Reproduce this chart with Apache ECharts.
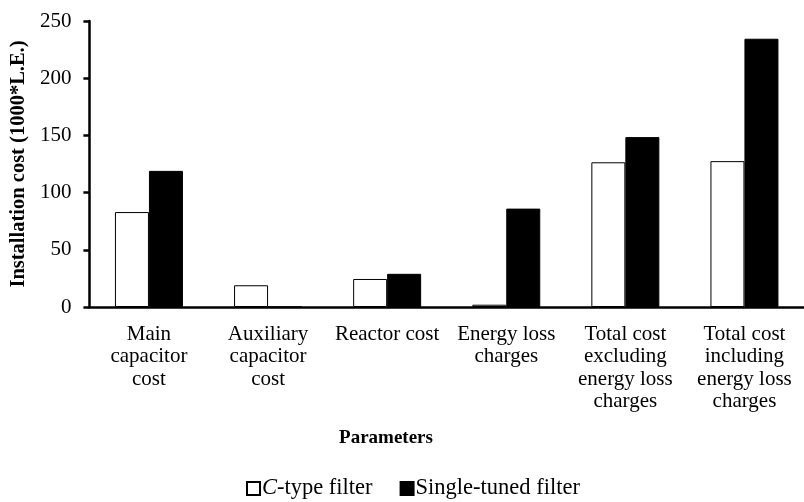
<!DOCTYPE html>
<html>
<head>
<meta charset="utf-8">
<script src="https://cdn.jsdelivr.net/npm/echarts@6/dist/echarts.min.js"></script>
<style>
  html, body { margin: 0; padding: 0; background: #fff; }
  #chart { width: 804px; height: 502px; }
</style>
</head>
<body>
<div id="chart"></div>
<script>
// Installation cost per parameter, in thousands of L.E.
const categories = [
  'Main\ncapacitor\ncost',
  'Auxiliary\ncapacitor\ncost',
  'Reactor cost',
  'Energy loss\ncharges',
  'Total cost\nexcluding\nenergy loss\ncharges',
  'Total cost\nincluding\nenergy loss\ncharges'
];
const cTypeFilter = [83, 19, 24.5, 2, 126.5, 127.5];
const singleTunedFilter = [119, 0, 29, 86, 148.5, 234.5];
const yTicks = { min: 0, max: 250, interval: 50 };

const serif = '"Liberation Serif", "Times New Roman", serif';
const chart = echarts.init(document.getElementById('chart'));

chart.setOption({
  animation: false,
  backgroundColor: '#fff',
  textStyle: { fontFamily: serif, color: '#000' },
  title: {
    text: 'Parameters',
    left: 386,
    top: 429,
    padding: 0,
    textAlign: 'center',
    textStyle: { fontFamily: serif, fontSize: 19, fontWeight: 'bold', color: '#000' }
  },
  legend: {
    left: 246,
    top: 477,
    padding: 0,
    itemWidth: 13,
    itemHeight: 13,
    itemGap: 27,
    icon: 'rect',
    data: ['C-type filter', 'Single-tuned filter'],
    formatter: function (name) {
      return name === 'C-type filter' ? '{i|C}{n|-type filter}' : '{n|' + name + '}';
    },
    textStyle: {
      fontFamily: serif,
      fontSize: 22.5,
      color: '#000',
      padding: [0, 0, 0, -3],
      rich: {
        i: { fontFamily: serif, fontSize: 22.5, fontStyle: 'italic', color: '#000' },
        n: { fontFamily: serif, fontSize: 22.5, color: '#000' }
      }
    }
  },
  grid: { left: 88, right: -1, top: 21, bottom: 195, containLabel: false },
  xAxis: {
    type: 'category',
    data: categories,
    axisLine: { lineStyle: { color: '#000', width: 2.5 } },
    axisTick: { show: false },
    axisLabel: {
      interval: 0,
      margin: 16,
      fontFamily: serif,
      fontSize: 21,
      lineHeight: 22.5,
      color: '#000'
    }
  },
  yAxis: {
    type: 'value',
    min: yTicks.min,
    max: yTicks.max,
    interval: yTicks.interval,
    name: 'Installation cost (1000*L.E.)',
    nameLocation: 'middle',
    nameGap: 54,
    nameTextStyle: { fontFamily: serif, fontSize: 20.5, fontWeight: 'bold', color: '#000' },
    axisLine: { show: true, lineStyle: { color: '#000', width: 2.5 } },
    axisTick: { show: true, length: 6, lineStyle: { color: '#000', width: 2.5 } },
    splitLine: { show: false },
    axisLabel: { margin: 18, fontFamily: serif, fontSize: 21, color: '#000' }
  },
  series: [
    {
      name: 'C-type filter',
      type: 'bar',
      data: cTypeFilter,
      barWidth: 34,
      barGap: '0%',
      itemStyle: { color: '#fff', borderColor: '#000', borderWidth: 1 }
    },
    {
      name: 'Single-tuned filter',
      type: 'bar',
      data: singleTunedFilter,
      barWidth: 34,
      barGap: '0%',
      itemStyle: { color: '#000', borderColor: '#000', borderWidth: 1 }
    }
  ]
});
</script>
</body>
</html>
